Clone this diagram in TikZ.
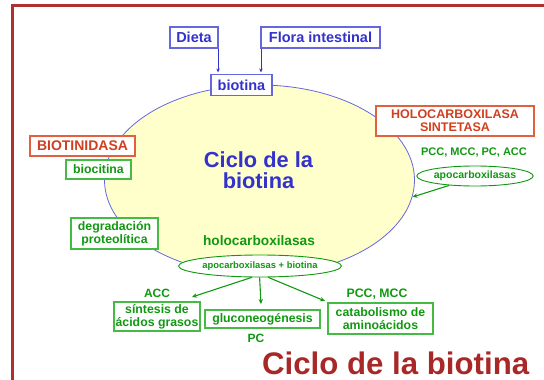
\documentclass[tikz,border=0pt]{standalone}
\usepackage{fontspec}
\setmainfont{Liberation Sans}
\usetikzlibrary{arrows.meta,shapes.geometric}
\definecolor{frameRed}{HTML}{B03030}
\definecolor{titleRed}{HTML}{A82828}
\definecolor{txtBlue}{HTML}{3333CC}
\definecolor{edgeBlue}{HTML}{6666DD}
\definecolor{txtGreen}{HTML}{109910}
\definecolor{edgeGreen}{HTML}{44BB44}
\definecolor{txtOrange}{HTML}{D04020}
\definecolor{edgeOrange}{HTML}{E06040}
\definecolor{cycFill}{HTML}{FFFFCC}
\tikzset{
  fs/.code={\pgfmathsetmacro\fsb{#1*1.05}\edef\fsdo{\noexpand\tikzset{font=\noexpand\fontsize{#1}{\fsb}\noexpand\selectfont\noexpand\bfseries}}\fsdo},
  bluebox/.style={draw=edgeBlue, line width=1.1pt, fill=white, text=txtBlue, inner sep=0pt, fs=14.5},
  redbox/.style={draw=edgeOrange, line width=1.1pt, fill=white, text=txtOrange, inner sep=0pt, align=center},
  greenbox/.style={draw=edgeGreen, line width=1.1pt, fill=white, text=txtGreen, inner sep=0pt, align=center, fs=12.3},
  greentext/.style={text=txtGreen, inner sep=0pt},
  greenell/.style={ellipse, draw=txtGreen, line width=0.9pt, fill=white, text=txtGreen, inner sep=0pt},
  bluearrow/.style={draw=txtBlue, line width=0.8pt, -{Stealth[length=4pt,width=3.5pt]}},
  greenarrow/.style={draw=txtGreen, line width=1.1pt, -{Stealth[length=5pt,width=4.5pt]}},
}
\begin{document}
\begin{tikzpicture}[x=1pt,y=-1pt]
\useasboundingbox (0,0) rectangle (544,380);
% frame
\draw[frameRed, line width=3pt] (12,383) -- (12,5.5) -- (547,5.5);
% cycle ellipse
\draw[edgeBlue, fill=cycFill, line width=0.8pt] (259.5,180) ellipse [x radius=155, y radius=95];
\coordinate (cyc) at (412.5,197);
% top
\node[bluebox, minimum width=48pt, minimum height=21pt] (dieta) at (194,37.5) {Dieta};
\node[bluebox, minimum width=119pt, minimum height=21pt] (flora) at (320.5,37.5) {Flora intestinal};
\node[bluebox, minimum width=61pt, minimum height=21pt] (biotina) at (241.5,85) {biotina};
\draw[bluearrow] ([xshift=-0.5pt]dieta.south east) -- ([xshift=-0.5pt,yshift=1.5pt]dieta.south east |- biotina.north);
\draw[bluearrow] ([xshift=0.5pt]flora.south west) -- ([xshift=0.5pt,yshift=1.5pt]flora.south west |- biotina.north);
% right
\node[redbox, fs=12.5, minimum width=158pt, minimum height=30pt] (holo) at (455,121) {HOLOCARBOXILASA\\SINTETASA};
\node[greentext, fs=11] (pcc) at (474,153) {PCC, MCC, PC, ACC};
\node[greenell, fs=10.5, minimum width=104pt, minimum height=20pt] (apo) at (475,176) {apocarboxilasas};
\draw[greenarrow] (apo.200) -- (cyc);
% left
\node[redbox, fs=14, minimum width=105pt, minimum height=20pt] (biotinidasa) at (82.5,146) {BIOTINIDASA};
\node[greenbox, minimum width=65pt, minimum height=19pt] (biocitina) at (98.5,169.5) {biocitina};
\node[greenbox, minimum width=87pt, minimum height=31pt] (degr) at (114.5,233.5) {degradación\\proteolítica};
% center
\node[text=txtBlue, fs=21.8, inner sep=0pt, anchor=base] (t1) at (258.5,167) {Ciclo de la};
\node[text=txtBlue, fs=21.8, inner sep=0pt, anchor=base] (t2) at (258.5,188) {biotina};
\node[greentext, fs=13.7, anchor=base] (holot) at (259,245) {holocarboxilasas};
\node[greenell, fs=9.4, minimum width=147pt, minimum height=22pt] (apob) at (260,266) {apocarboxilasas + biotina};
% bottom
\node[greentext, fs=12] (acc) at (157,293) {ACC};
\node[greenbox, minimum width=86pt, minimum height=29pt] (sint) at (157,316.5) {síntesis de\\ácidos grasos};
\node[greenbox, minimum width=115pt, minimum height=18pt] (gluco) at (262.5,319) {gluconeogénesis};
\node[greentext, fs=12] (pc) at (256,338) {PC};
\node[greentext, fs=12.3] (pccmcc) at (377,294) {PCC, MCC};
\node[greenbox, minimum width=105pt, minimum height=31pt] (catab) at (380.5,318.5) {catabolismo de\\aminoácidos};
\coordinate (a1) at (192,297);
\coordinate (a2) at (261,304);
\coordinate (a3) at (325,301);
\draw[greenarrow] (apob.234) -- (a1);
\draw[greenarrow] (apob.268) -- (a2);
\draw[greenarrow] (apob.306) -- (a3);
% big title
\node[text=titleRed, fs=31.2, inner sep=0pt, text depth=0pt, anchor=base west] (title) at (262,374) {Ciclo de la biotina};
\end{tikzpicture}
\end{document}
